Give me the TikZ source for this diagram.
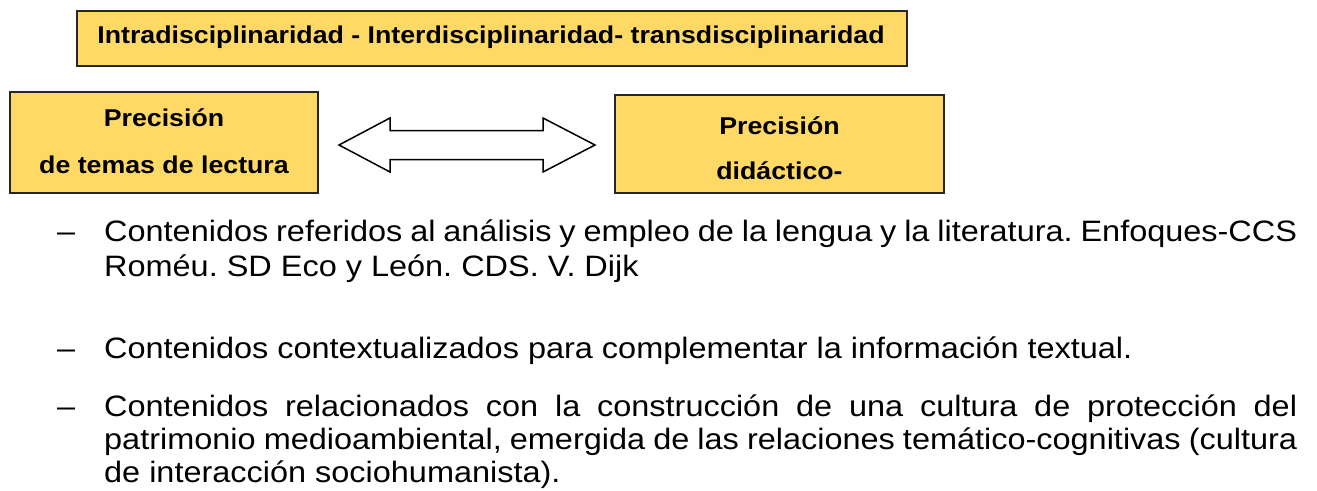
\documentclass[tikz,border=0pt]{standalone}
\usepackage{fontspec}
\setmainfont{Liberation Sans}
\newfontfamily\widefont[FakeStretch=1.1]{Liberation Sans}
\definecolor{boxfill}{HTML}{FFD966}
\tikzset{
  box/.style={draw=black!85, line width=2pt, fill=boxfill, inner sep=0pt},
  boxtext/.style={anchor=base, inner sep=0pt, font=\widefont\bfseries\fontsize{24.3}{30}\selectfont},
  body/.style={anchor=base west, inner sep=0pt, font=\widefont\fontsize{29.5}{35}\selectfont},
  bullet/.style={anchor=base west, inner sep=0pt, font=\widefont\fontsize{29.5}{35}\selectfont},
  blockarrow/.style={draw=black, line width=1.5pt, fill=white, line join=miter}
}
\frenchspacing
\begin{document}
\begin{tikzpicture}[x=1pt,y=-1pt]
\useasboundingbox (0,0) rectangle (1317,490);
% boxes
\node[box, minimum width=830, minimum height=55] (top) at (492,38.5) {};
\node[boxtext] (toptext) at (491,43)
  {Intradisciplinaridad - Interdisciplinaridad- transdisciplinaridad};
\node[box, minimum width=308, minimum height=101] (left) at (164,142.5) {};
\node[boxtext] (left1) at (164,126) {Precisión};
\node[boxtext] (left2) at (164,173) {de temas de lectura};
\node[box, minimum width=329, minimum height=98] (right) at (779.5,144) {};
\node[boxtext] (right1) at (779.5,134) {Precisión};
\node[boxtext] (right2) at (779.5,179) {didáctico-};
% double block arrow
\coordinate (tipL) at (339,145);
\coordinate (tipR) at (595,145);
\draw[blockarrow] (tipL) -- (390,118) -- (390,130.5) -- (543,130.5) -- (543,118)
  -- (tipR) -- (543,172) -- (543,159.5) -- (390,159.5) -- (390,172) -- cycle;
% bullets
\node[bullet] (d1) at (57,241.5) {–};
\node[bullet] (d3) at (57,358.5) {–};
\node[bullet] (d4) at (57,416.5) {–};
% body text
\node[body] (l1) at (104,241.5)
  {\makebox[1193pt][s]{Contenidos referidos al análisis y empleo de la lengua y la literatura. Enfoques-CCS}};
\node[body] (l2) at (104,276.5) {Roméu. SD Eco y León. CDS. V. Dijk};
\node[body] (l3) at (104,358.5) {Contenidos contextualizados para complementar la información textual.};
\node[body] (l4) at (104,416.5)
  {\makebox[1193pt][s]{Contenidos relacionados con la construcción de una cultura de protección del}};
\node[body] (l5) at (104,449.5)
  {\makebox[1193pt][s]{patrimonio medioambiental, emergida de las relaciones temático-cognitivas (cultura}};
\node[body] (l6) at (104,482.5) {de interacción sociohumanista).};
\end{tikzpicture}
\end{document}
